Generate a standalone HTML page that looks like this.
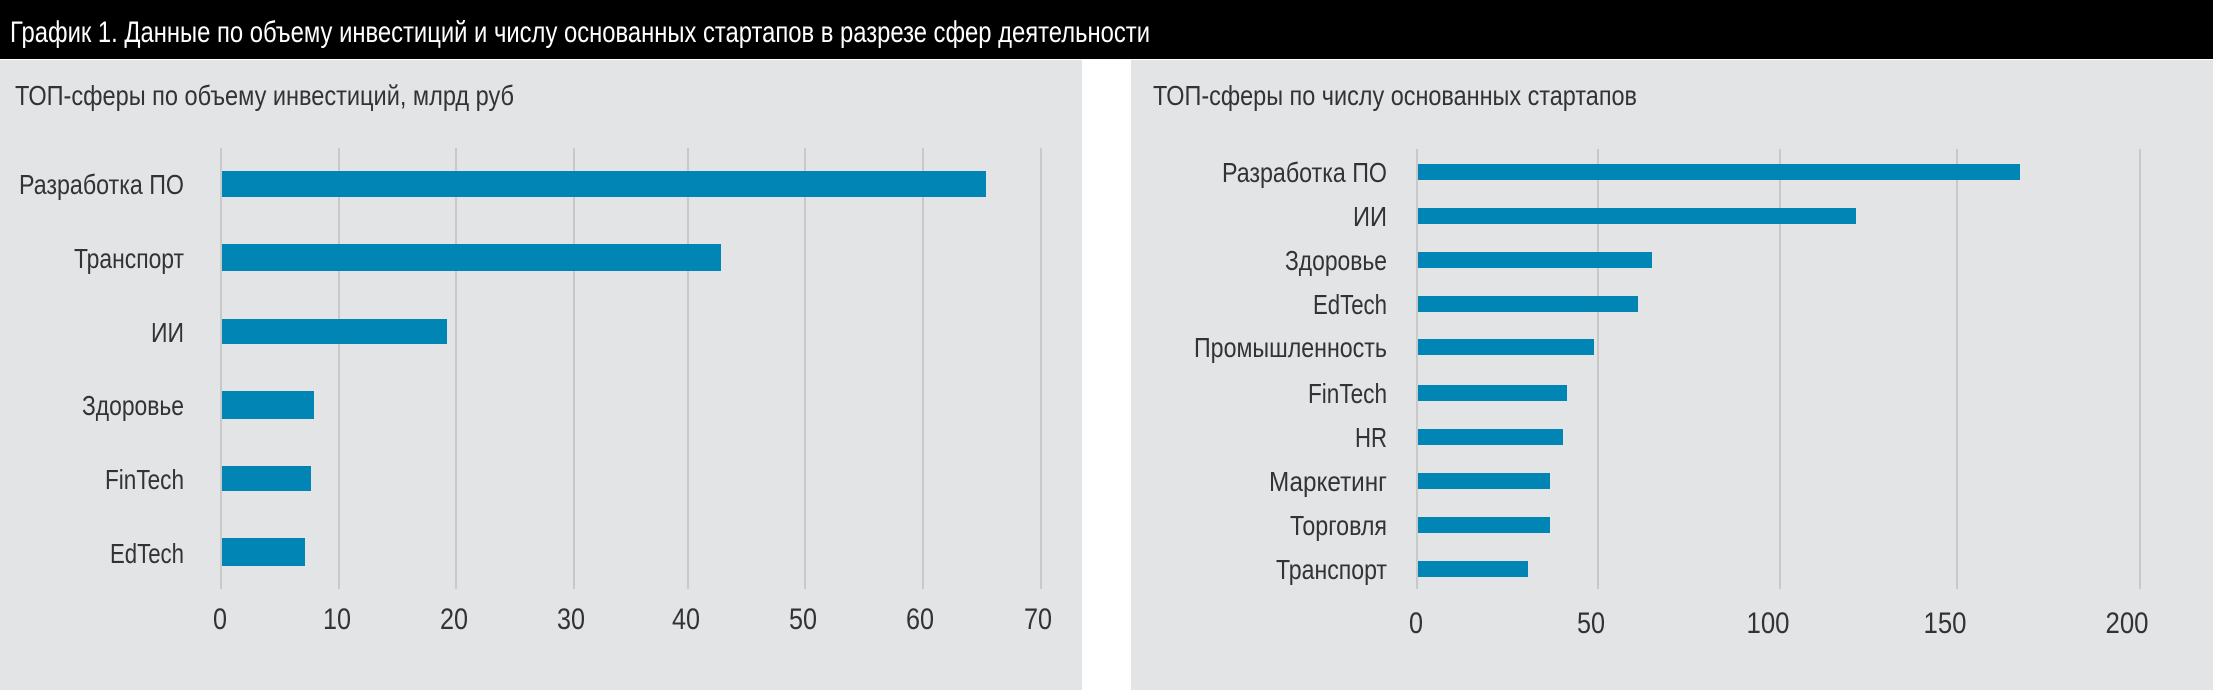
<!DOCTYPE html>
<html><head><meta charset="utf-8"><style>
html,body{margin:0;padding:0;background:#fff;}
svg{display:block;}
text{font-family:"Liberation Sans Narrow","Liberation Sans",sans-serif;fill:#333;}
</style></head><body>
<svg width="2213" height="692" viewBox="0 0 2213 692" xmlns="http://www.w3.org/2000/svg">
<rect x="0" y="0" width="2213" height="692" fill="#fff"/>
<rect x="0" y="0" width="2213" height="59" fill="#000"/>
<text x="10" y="42" font-size="30" style="fill:#fff" textLength="1140" lengthAdjust="spacingAndGlyphs">График 1. Данные по объему инвестиций и числу основанных стартапов в разрезе сфер деятельности</text>
<rect x="0" y="60" width="1082" height="630" fill="#e3e4e6"/>
<rect x="1131" y="60" width="1082" height="630" fill="#e3e4e6"/>
<text x="15" y="105" font-size="28" textLength="499" lengthAdjust="spacingAndGlyphs">ТОП-сферы по объему инвестиций, млрд руб</text>
<text x="1153" y="105" font-size="28" textLength="484" lengthAdjust="spacingAndGlyphs">ТОП-сферы по числу основанных стартапов</text>
<g stroke="#c9c9c9" stroke-width="2">
<line x1="221" y1="148" x2="221" y2="589"/><line x1="339" y1="148" x2="339" y2="589"/><line x1="456" y1="148" x2="456" y2="589"/><line x1="574" y1="148" x2="574" y2="589"/><line x1="688" y1="148" x2="688" y2="589"/><line x1="805" y1="148" x2="805" y2="589"/><line x1="923" y1="148" x2="923" y2="589"/><line x1="1041" y1="148" x2="1041" y2="589"/>
<line x1="1417" y1="149" x2="1417" y2="589"/><line x1="1598" y1="149" x2="1598" y2="589"/><line x1="1780" y1="149" x2="1780" y2="589"/><line x1="1957" y1="149" x2="1957" y2="589"/><line x1="2140" y1="149" x2="2140" y2="589"/>
</g>
<g fill="#0085b5">
<rect x="222" y="171" width="764" height="26"/>
<rect x="222" y="244" width="499" height="27"/>
<rect x="222" y="319" width="225" height="25"/>
<rect x="222" y="391" width="92" height="28"/>
<rect x="222" y="466" width="89" height="25"/>
<rect x="222" y="538" width="83" height="28"/>
<rect x="1418" y="164" width="602" height="16"/>
<rect x="1418" y="208" width="438" height="16"/>
<rect x="1418" y="252" width="234" height="16"/>
<rect x="1418" y="296" width="220" height="16"/>
<rect x="1418" y="339" width="176" height="16"/>
<rect x="1418" y="385" width="149" height="16"/>
<rect x="1418" y="429" width="145" height="16"/>
<rect x="1418" y="473" width="132" height="16"/>
<rect x="1418" y="517" width="132" height="16"/>
<rect x="1418" y="561" width="110" height="16"/>
</g>
<g font-size="28" text-anchor="end">
<text x="184" y="194" textLength="165" lengthAdjust="spacingAndGlyphs">Разработка ПО</text>
<text x="184" y="268" textLength="110" lengthAdjust="spacingAndGlyphs">Транспорт</text>
<text x="184" y="342" textLength="33" lengthAdjust="spacingAndGlyphs">ИИ</text>
<text x="184" y="415" textLength="102" lengthAdjust="spacingAndGlyphs">Здоровье</text>
<text x="184" y="489" textLength="79" lengthAdjust="spacingAndGlyphs">FinTech</text>
<text x="184" y="563" textLength="74" lengthAdjust="spacingAndGlyphs">EdTech</text>
<text x="1387" y="182" textLength="165" lengthAdjust="spacingAndGlyphs">Разработка ПО</text>
<text x="1387" y="226" textLength="34" lengthAdjust="spacingAndGlyphs">ИИ</text>
<text x="1387" y="270" textLength="102" lengthAdjust="spacingAndGlyphs">Здоровье</text>
<text x="1387" y="314" textLength="74" lengthAdjust="spacingAndGlyphs">EdTech</text>
<text x="1387" y="357" textLength="193" lengthAdjust="spacingAndGlyphs">Промышленность</text>
<text x="1387" y="403" textLength="79" lengthAdjust="spacingAndGlyphs">FinTech</text>
<text x="1387" y="447" textLength="32" lengthAdjust="spacingAndGlyphs">HR</text>
<text x="1387" y="491" textLength="118" lengthAdjust="spacingAndGlyphs">Маркетинг</text>
<text x="1387" y="535" textLength="97" lengthAdjust="spacingAndGlyphs">Торговля</text>
<text x="1387" y="579" textLength="111" lengthAdjust="spacingAndGlyphs">Транспорт</text>
</g>
<g font-size="30" text-anchor="middle">
<text x="220" y="629" textLength="14" lengthAdjust="spacingAndGlyphs">0</text>
<text x="337" y="629" textLength="28" lengthAdjust="spacingAndGlyphs">10</text>
<text x="454" y="629" textLength="28" lengthAdjust="spacingAndGlyphs">20</text>
<text x="571" y="629" textLength="28" lengthAdjust="spacingAndGlyphs">30</text>
<text x="686" y="629" textLength="28" lengthAdjust="spacingAndGlyphs">40</text>
<text x="803" y="629" textLength="28" lengthAdjust="spacingAndGlyphs">50</text>
<text x="920" y="629" textLength="28" lengthAdjust="spacingAndGlyphs">60</text>
<text x="1038" y="629" textLength="28" lengthAdjust="spacingAndGlyphs">70</text>
<text x="1416" y="633" textLength="14" lengthAdjust="spacingAndGlyphs">0</text>
<text x="1591" y="633" textLength="28" lengthAdjust="spacingAndGlyphs">50</text>
<text x="1768" y="633" textLength="43" lengthAdjust="spacingAndGlyphs">100</text>
<text x="1945" y="633" textLength="43" lengthAdjust="spacingAndGlyphs">150</text>
<text x="2127" y="633" textLength="43" lengthAdjust="spacingAndGlyphs">200</text>
</g>
</svg>
</body></html>
